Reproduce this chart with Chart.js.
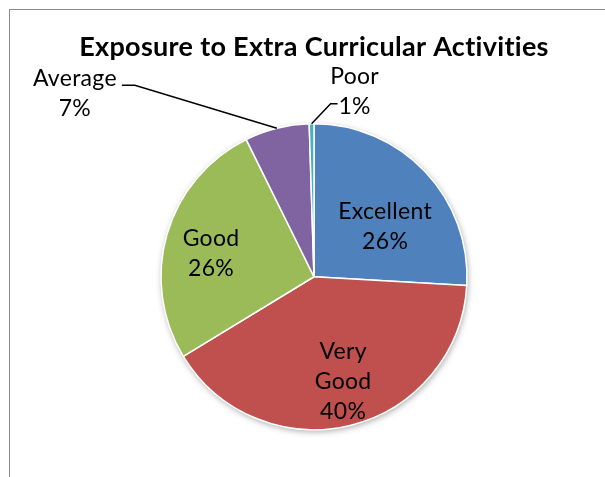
<!DOCTYPE html>
<html><head><meta charset="utf-8">
<script src="https://cdn.jsdelivr.net/npm/chart.js@4/dist/chart.umd.min.js"></script>
<style>
html,body{margin:0;padding:0;background:#fff;}
#wrap{position:relative;width:605px;height:477px;overflow:hidden;background:#fff;}
#frame{position:absolute;left:9px;top:9px;width:800px;height:800px;border:1.5px solid #8a8a8a;box-sizing:border-box;pointer-events:none;}
canvas{position:absolute;left:0;top:0;}
</style></head><body>
<div id="wrap"><canvas id="c" width="605" height="477"></canvas><div id="frame"></div></div>
<script>
const titleText = "Exposure to Extra Curricular Activities";
const categories = ["Excellent", "Very Good", "Good", "Average", "Poor"];
const shares = [25.9, 40.4, 26.4, 6.8, 0.5];
const colors = ["#4F81BD", "#C0504D", "#9BBB59", "#8064A2", "#4BACC6"];

// label placement relative to each slice (radius fraction / angle tweak, or outside offsets)
const labelPlacement = [
  {mode: "in", rf: 0.57, da: 8},
  {mode: "in", rf: 0.71, da: -1.5},
  {mode: "in", rf: 0.69, da: -3.4},
  {mode: "out", text: [-202, -34.5], elbow: [-142, -43], end: [-155, -43]},
  {mode: "out", text: [43, -32.5], elbow: [19, -20], end: [26, -20]}
];

const total = shares.reduce((a, b) => a + b, 0);
const pctText = shares.map(v => Math.round(v / total * 100) + "%");

const LABEL_FONT = "23px Lato";
const LINE_H = 30;

const noLigaturePlugin = {
  id: "noLig",
  beforeDraw(chart) {
    try { chart.ctx.letterSpacing = "0.3px"; } catch (e) {}
  }
};

const shadowPlugin = {
  id: "pieShadow",
  beforeDatasetsDraw(chart) {
    const a = chart.getDatasetMeta(0).data[0];
    if (!a) return;
    const ctx = chart.ctx;
    ctx.save();
    ctx.shadowColor = "rgba(0,0,0,0.35)";
    ctx.shadowBlur = 6;
    ctx.shadowOffsetX = 1;
    ctx.shadowOffsetY = 2;
    ctx.fillStyle = "#fff";
    ctx.beginPath();
    ctx.arc(a.x, a.y, a.outerRadius, 0, Math.PI * 2);
    ctx.fill();
    ctx.restore();
  }
};

const labelPlugin = {
  id: "sliceLabels",
  afterDatasetsDraw(chart) {
    const ctx = chart.ctx;
    const arcs = chart.getDatasetMeta(0).data;
    ctx.save();
    ctx.font = LABEL_FONT;
    ctx.fillStyle = "#000";
    ctx.textAlign = "center";
    ctx.textBaseline = "middle";
    arcs.forEach((arc, i) => {
      const p = labelPlacement[i];
      const mid = (arc.startAngle + arc.endAngle) / 2;
      let lines;
      if (p.mode === "in") {
        lines = categories[i].split(" ").concat([pctText[i]]);
        const ang = mid + p.da * Math.PI / 180;
        const r = arc.outerRadius * p.rf;
        const cx = arc.x + Math.cos(ang) * r;
        const cy = arc.y + Math.sin(ang) * r;
        const y0 = cy - (lines.length - 1) * LINE_H / 2;
        lines.forEach((t, k) => ctx.fillText(t, cx, y0 + k * LINE_H));
      } else {
        lines = [categories[i], pctText[i]];
        const ex = arc.x + Math.cos(mid) * arc.outerRadius;
        const ey = arc.y + Math.sin(mid) * arc.outerRadius;
        ctx.beginPath();
        ctx.strokeStyle = "#000";
        ctx.lineWidth = 1.5;
        ctx.moveTo(ex, ey);
        ctx.lineTo(ex + p.elbow[0], ey + p.elbow[1]);
        ctx.lineTo(ex + p.end[0], ey + p.end[1]);
        ctx.stroke();
        const cx = ex + p.text[0];
        const cy = ey + p.text[1];
        const y0 = cy - (lines.length - 1) * LINE_H / 2;
        lines.forEach((t, k) => ctx.fillText(t, cx, y0 + k * LINE_H));
      }
    });
    ctx.restore();
  }
};

new Chart(document.getElementById("c"), {
  type: "pie",
  data: {
    labels: categories,
    datasets: [{
      data: shares,
      backgroundColor: colors,
      borderColor: "#ffffff",
      borderWidth: 1.5
    }]
  },
  options: {
    responsive: false,
    animation: false,
    devicePixelRatio: 1,
    layout: {padding: {left: 23, right: 0, top: 20, bottom: 46.5}},
    plugins: {
      legend: {display: false},
      tooltip: {enabled: false},
      title: {
        display: true,
        text: titleText,
        color: "#000",
        font: {family: "Lato", size: 27, weight: "bold", lineHeight: 1.2},
        padding: {top: 11, bottom: 59.6}
      }
    }
  },
  plugins: [noLigaturePlugin, shadowPlugin, labelPlugin]
});
</script>
</body></html>
